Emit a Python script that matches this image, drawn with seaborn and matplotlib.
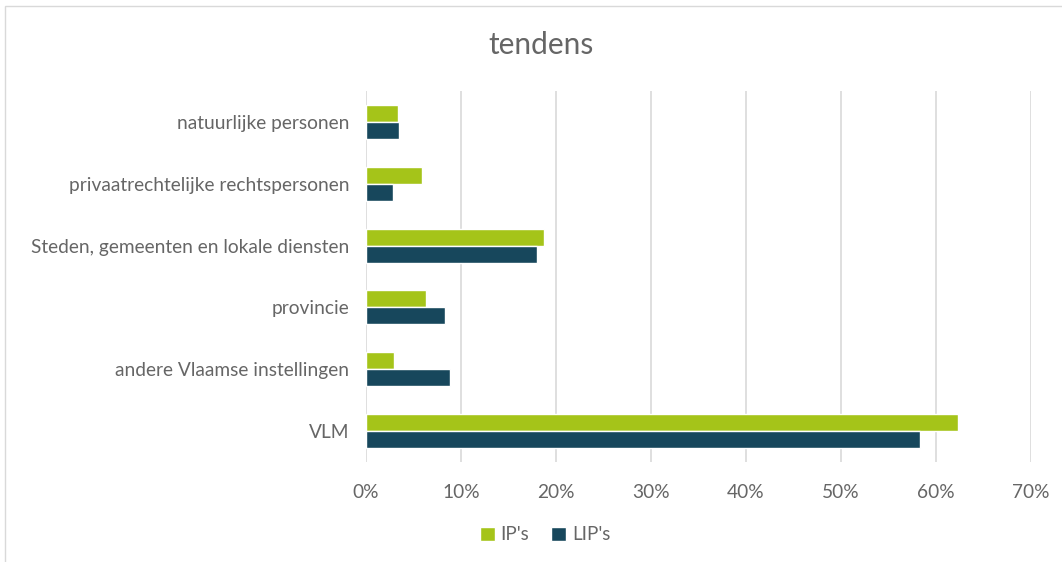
import matplotlib
matplotlib.use("Agg")
import matplotlib.pyplot as plt
import seaborn as sns
import pandas as pd
from matplotlib.patches import Rectangle
from matplotlib.ticker import PercentFormatter

# categorieën (van boven naar onder) en percentages per reeks
categories = [
    "natuurlijke personen",
    "privaatrechtelijke rechtspersonen",
    "Steden, gemeenten en lokale diensten",
    "provincie",
    "andere Vlaamse instellingen",
    "VLM",
]
ip_values = [3.4, 5.9, 18.7, 6.3, 2.9, 62.3]
lip_values = [3.5, 2.8, 18.0, 8.3, 8.8, 58.3]
series_names = ["IP's", "LIP's"]
x_ticks = [0, 10, 20, 30, 40, 50, 60, 70]

df = pd.DataFrame({
    "categorie": categories * 2,
    "waarde": ip_values + lip_values,
    "reeks": [series_names[0]] * len(categories) + [series_names[1]] * len(categories),
})

sns.set_theme(style="white")
plt.rcParams["font.family"] = ["Lato", "DejaVu Sans"]

grey = "#666666"
fig = plt.figure(figsize=(10.62, 5.62), dpi=100)
ax = fig.add_axes([366 / 1062, 1 - 462 / 562, 665 / 1062, 371 / 562])

sns.barplot(
    data=df, y="categorie", x="waarde", hue="reeks", orient="h",
    palette=["#A5C419", "#17475C"], width=0.55, ax=ax, saturation=1,
)

ax.set_xlim(0, 70)
ax.set_xticks(x_ticks)
ax.xaxis.set_major_formatter(PercentFormatter(decimals=0))
ax.grid(axis="x", color="#D9D9D9", linewidth=1.2)
ax.set_axisbelow(True)
for s in ax.spines.values():
    s.set_visible(False)
ax.set_xlabel("")
ax.set_ylabel("")
ax.tick_params(axis="both", length=0, labelsize=13.8, labelcolor=grey)
ax.tick_params(axis="x", pad=16)
ax.tick_params(axis="y", pad=12)

ax.legend_.remove()
handles, labels = ax.get_legend_handles_labels()
fig.legend(handles, labels, loc="center", bbox_to_anchor=(545 / 1062, 1 - 535 / 562),
           ncol=2, frameon=False, fontsize=13.5, labelcolor=grey,
           handlelength=0.8, handleheight=0.8, handletextpad=0.3, columnspacing=1.2)

fig.text(541 / 1062, 1 - 45 / 562, "tendens", ha="center", va="center",
         fontsize=21.5, color=grey)

# rand rond het grafiekgebied
fig.patches.append(Rectangle((5 / 1062, -0.01), 1.0, 1 - 6 / 562 + 0.01,
                             transform=fig.transFigure, fill=False,
                             edgecolor="#D9D9D9", linewidth=1))

fig.savefig("out.png", dpi=100)
